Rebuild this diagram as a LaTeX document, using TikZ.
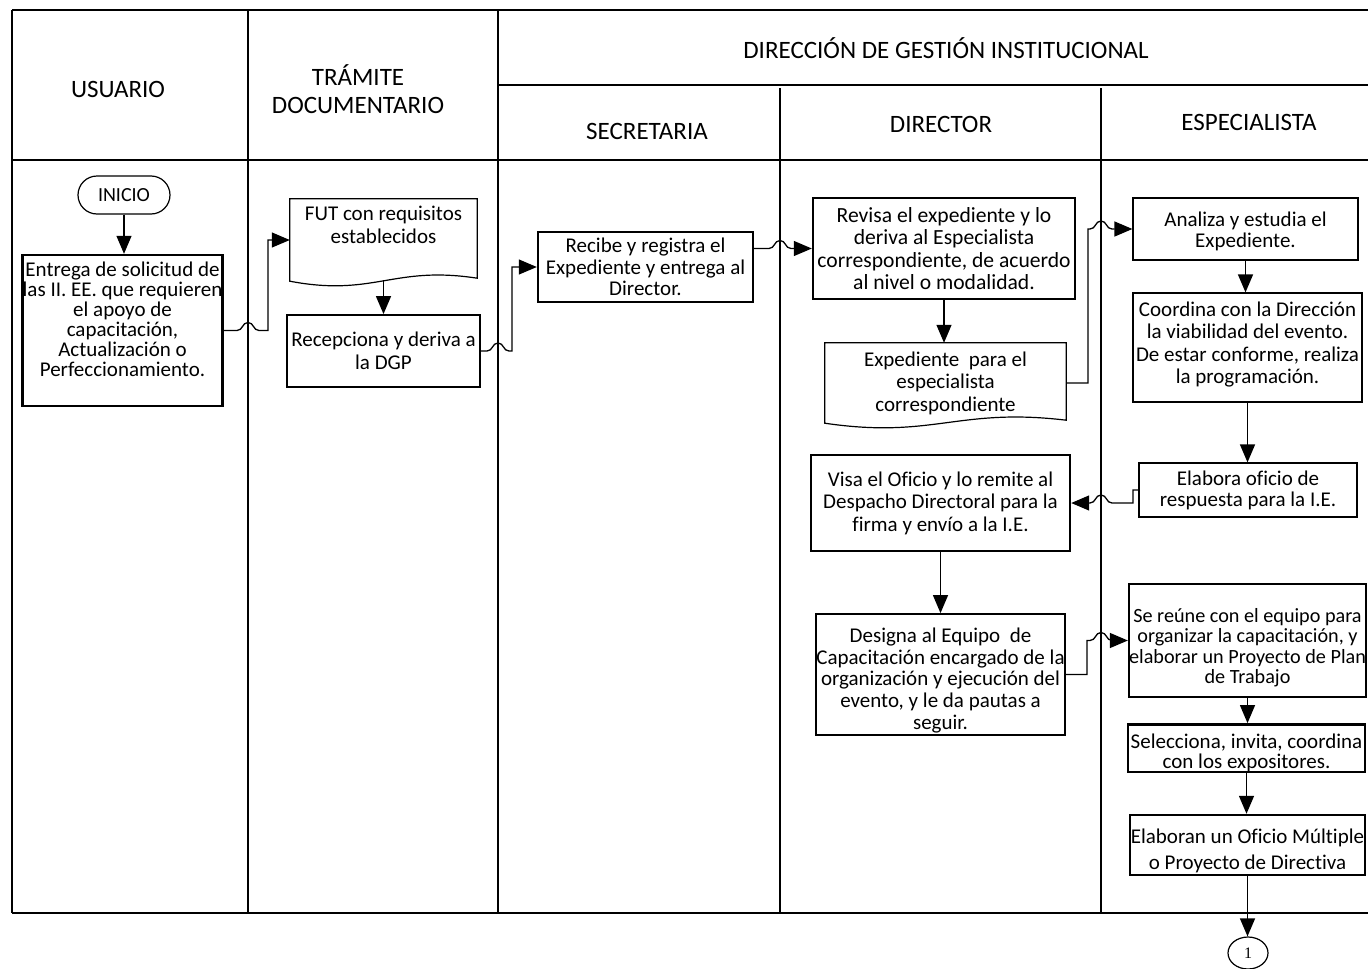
\documentclass[tikz,border=0pt]{standalone}
\usepackage{fontspec}
\setmainfont{Carlito}[Ligatures={NoCommon}]
\newfontfamily\numfont{Liberation Serif}
\usetikzlibrary{arrows.meta,calc,shapes.geometric}

\newcommand\bodyfont{\fontsize{21}{22.5}\selectfont}
\newcommand\headfont{\fontsize{25}{28}\selectfont}
% invisible strut that deepens the last line (lifts the text block)
\newcommand\dn[1]{\rule[-#1]{0pt}{#1}}
% invisible strut that raises the first line (lowers the text block)
\newcommand\up[1]{\rule{0pt}{#1}}
% line jump over a lane border, drawn left-to-right / right-to-left
\newcommand\hopr[2]{-- ({#1-11},{#2}) .. controls ({#1-5},{#2}) and ({#1-6},{#2-8}) .. ({#1},{#2-8}) .. controls ({#1+6},{#2-8}) and ({#1+5},{#2}) .. ({#1+11},{#2})}
\newcommand\hopl[2]{-- ({#1+11},{#2}) .. controls ({#1+5},{#2}) and ({#1+6},{#2-8}) .. ({#1},{#2-8}) .. controls ({#1-6},{#2-8}) and ({#1-5},{#2}) .. ({#1-11},{#2})}
% flowchart "document" outline around a node
\newcommand\docoutline[1]{\draw[docline] (#1.north west) -- (#1.north east) -- ([yshift=3pt]#1.south east) .. controls ($(#1.south west)!0.55!(#1.south east)+(0pt,16pt)$) and ($(#1.south west)!0.45!(#1.south east)+(0pt,-16pt)$) .. (#1.south west) -- cycle;}

\tikzset{
  lane/.style={line width=2.4pt},
  laneh/.style={line width=2.8pt},
  proc/.style={draw, line width=1.2pt, align=center, inner sep=0pt, font=\bodyfont},
  procm/.style={proc, line width=1.8pt},
  procb/.style={proc, line width=2.4pt},
  doc/.style={align=center, inner sep=0pt, font=\bodyfont},
  docline/.style={line width=1.2pt},
  head/.style={align=center, inner sep=0pt, font=\headfont},
  conn/.style={line width=1.3pt},
  arr/.style={conn, -{Triangle[length=18pt,width=15pt]}},
}

\begin{document}
\begin{tikzpicture}[x=1pt,y=-1pt]
\useasboundingbox (0,0) rectangle (1368,969);

% ---- swimlane frame ----
\draw[laneh] (12,10) -- (1368,10);
\draw[laneh] (12,160) -- (1368,160);
\draw[laneh] (12,913) -- (1368,913);
\draw[laneh] (498,85) -- (1368,85);
\draw[lane] (12,10) -- (12,913);
\draw[lane] (248,10) -- (248,913);
\draw[lane] (498,10) -- (498,913);
\draw[lane] (780,88) -- (780,913);
\draw[lane] (1101,88) -- (1101,913);

% ---- lane titles ----
\node[head] (hUsuario) at (118,89) {USUARIO};
\node[head] (hTramite) at (358,89) {TRÁMITE\\DOCUMENTARIO};
\node[head] (hDgi) at (946,48) {DIRECCIÓN DE GESTIÓN INSTITUCIONAL};
\node[head] (hSecre) at (647,131) {SECRETARIA};
\node[head] (hDirec) at (941,124) {DIRECTOR};
\node[head] (hEspec) at (1249,122) {ESPECIALISTA};

% ---- steps ----
\node[draw, line width=1.2pt, rounded corners=19pt, minimum width=92pt, minimum height=38pt,
      inner sep=0pt, font=\fontsize{20}{20}\selectfont] (inicio) at (124,195) {INICIO};

\node[procb, minimum width=199pt, minimum height=151pt, font=\fontsize{21}{20}\selectfont]
  (entrega) at (122.5,330.5)
  {Entrega de solicitud de\\las II. EE. que requieren\\el apoyo de\\capacitación,\\Actualización o\\Perfeccionamiento.\dn{22pt}};

\node[doc, minimum width=187pt, minimum height=82pt] (fut) at (383.5,240)
  {FUT con requisitos\\establecidos\dn{30pt}};
\docoutline{fut}

\node[procm, minimum width=193pt, minimum height=72pt] (recep) at (383.5,351)
  {Recepciona y deriva a\\la DGP};

\node[procb, minimum width=215pt, minimum height=70pt, font=\fontsize{21}{21.5}\selectfont]
  (recibe) at (645.5,267)
  {Recibe y registra el\\Expediente y entrega al\\Director.};

\node[procb, minimum width=262pt, minimum height=101pt, font=\fontsize{21.6}{22.5}\selectfont]
  (revisa) at (944,248.5)
  {Revisa el expediente y lo\\deriva al Especialista\\correspondiente, de acuerdo\\al nivel o modalidad.};

\node[doc, minimum width=241pt, minimum height=80pt] (exped) at (945.5,383)
  {Expediente~ para el\\especialista\\correspondiente};
\docoutline{exped}

\node[proc, minimum width=225pt, minimum height=62pt, font=\fontsize{21}{21}\selectfont]
  (analiza) at (1245.5,229)
  {\up{20pt}Analiza y estudia el\\Expediente.};

\node[proc, minimum width=229pt, minimum height=109pt] (coordina) at (1247.5,347.5)
  {Coordina con la Dirección\\la viabilidad del evento.\\De estar conforme, realiza\\la programación.\dn{10pt}};

\node[proc, minimum width=218pt, minimum height=54pt, font=\fontsize{21}{21}\selectfont]
  (elabora) at (1248,490)
  {Elabora oficio de\\respuesta para la I.E.};

\node[procb, minimum width=259pt, minimum height=96pt] (visa) at (940.5,503)
  {Visa el Oficio y lo remite al\\Despacho Directoral para la\\firma y envío a la I.E.};

\node[procm, minimum width=249pt, minimum height=121pt, font=\fontsize{21}{21.7}\selectfont]
  (designa) at (940.5,674.5)
  {\up{26pt}Designa al Equipo~ de\\Capacitación encargado de la\\organización y ejecución del\\evento, y le da pautas a\\seguir.};

\node[procb, minimum width=229pt, minimum height=113pt, font=\fontsize{20.2}{20.5}\selectfont]
  (reune) at (1247.5,640.5)
  {\up{28pt}Se reúne con el equipo para\\organizar la capacitación, y\\elaborar un Proyecto de Plan\\de Trabajo};

\node[procb, minimum width=237pt, minimum height=44pt, font=\fontsize{21}{20}\selectfont]
  (selec) at (1246.5,748)
  {\up{24pt}Selecciona, invita, coordina\\con los expositores.};

\node[procb, minimum width=235pt, minimum height=60pt, font=\fontsize{21}{26}\selectfont]
  (elaboran) at (1247.5,845)
  {\up{26pt}Elaboran un Oficio Múltiple\\o Proyecto de Directiva};

\node[ellipse, draw, line width=1.2pt, minimum width=40pt, minimum height=32pt, inner sep=0pt,
      font=\numfont\fontsize{16}{16}\selectfont] (conector) at (1248,953) {1};

% ---- flow ----
\draw[arr] (inicio.south) -- (inicio.south |- entrega.north);
\draw[arr] (entrega.east) \hopr{248}{330.5} -- (268,330.5) |- (fut.west);
\draw[arr] ([yshift=1pt]fut.south) -- (fut.south |- recep.north);
\draw[arr] (recep.east) \hopr{498}{351} -- (512,351) |- (recibe.west);
\draw[arr] (recibe.east |- revisa.west) \hopr{780}{248.5} -- (revisa.west);
\draw[arr] (revisa.south) -- (revisa.south |- exped.north);
\draw[arr] (exped.east) -| (1088,229) \hopr{1101}{229} -- (analiza.west);
\draw[arr] (analiza.south) -- (analiza.south |- coordina.north);
\draw[arr] (coordina.south) -- (coordina.south |- elabora.north);
\draw[arr] (elabora.west) -- (1133,490) -- (1133,503) \hopl{1101}{503} -- (visa.east);
\draw[arr] (visa.south) -- (visa.south |- designa.north);
\draw[arr] (designa.east) -- (1087,674.5) -- (1087,640.5) \hopr{1101}{640.5} -- (reune.west);
\draw[arr] (reune.south) -- (reune.south |- selec.north);
\draw[arr] (selec.south) -- (selec.south |- elaboran.north);
\draw[arr] (elaboran.south) -- (elaboran.south |- conector.north);
\end{tikzpicture}
\end{document}
